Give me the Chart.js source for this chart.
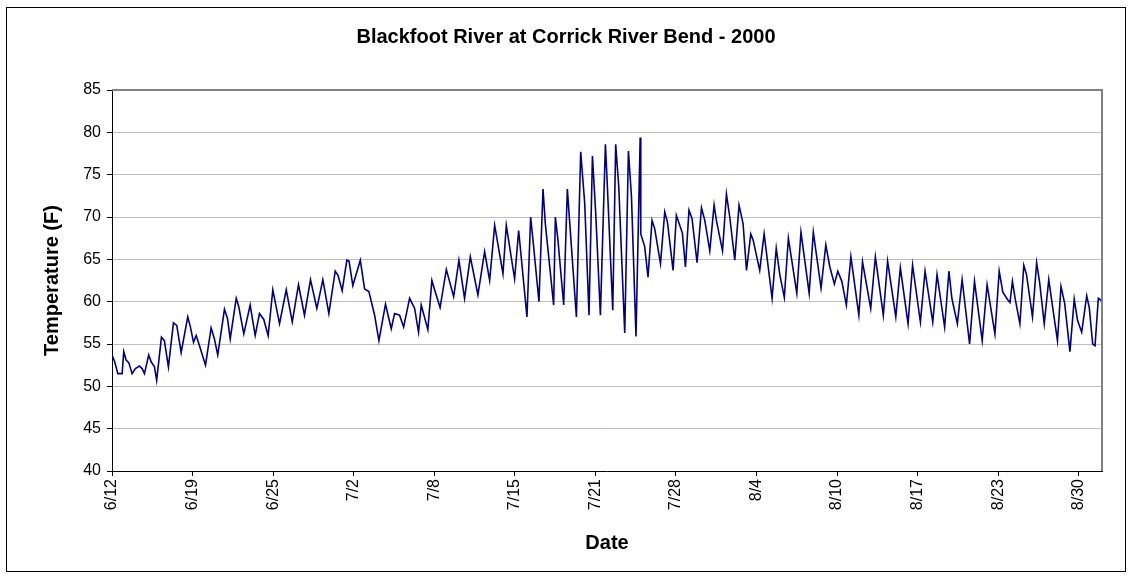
<!DOCTYPE html>
<html>
<head>
<meta charset="utf-8">
<script src="https://cdn.jsdelivr.net/npm/chart.js@4.4.0/dist/chart.umd.min.js"></script>
<style>
  body { margin: 0; background: #fff; }
  canvas { display: block; }
</style>
</head>
<body>
<canvas id="tempChart" width="1132" height="577"></canvas>
<script>
// tick labels along the date axis (evenly spaced in the original chart)
const tickLabels = ['6/12', '6/19', '6/25', '7/2', '7/8', '7/15', '7/21',
                    '7/28', '8/4', '8/10', '8/17', '8/23', '8/30'];
const daysPerTick = 79 / 12;

// daily highs / lows, days after 6/12
const dayOffsets = [
    0, 0.20, 0.48, 0.83, 0.96, 1.15, 1.37, 1.64, 1.91, 2.24,
    2.46, 2.65, 3.00, 3.20, 3.47, 3.65, 4.04, 4.28, 4.61, 5.02,
    5.29, 5.65, 6.19, 6.41, 6.66, 6.88, 7.15, 7.64, 8.10, 8.37,
    8.64, 9.19, 9.44, 9.66, 10.15, 10.36, 10.77, 11.29, 11.70, 12.05,
    12.40, 12.76, 13.14, 13.69, 14.24, 14.73, 15.24, 15.73, 16.22, 16.74,
    17.23, 17.72, 18.24, 18.47, 18.81, 19.19, 19.37, 19.68, 20.29, 20.64,
    20.99, 21.46, 21.81, 22.35, 22.82, 23.09, 23.50, 23.83, 24.32, 24.73,
    25.05, 25.27, 25.81, 26.14, 26.36, 26.81, 27.32, 27.92, 28.35, 28.81,
    29.28, 29.90, 30.45, 30.86, 31.27, 31.95, 32.22, 32.90, 33.23, 33.91,
    34.21, 34.40, 34.89, 35.22, 35.41, 36.09, 36.23, 36.44, 36.91, 37.21,
    37.40, 37.95, 38.30, 38.63, 38.98, 39.26, 39.53, 39.91, 40.32, 40.45,
    40.92, 41.16, 41.41, 41.90, 42.20, 42.45, 42.82, 43.16, 43.21, 43.53,
    43.80, 44.13, 44.35, 44.82, 45.17, 45.39, 45.85, 46.12, 46.61, 46.86,
    47.15, 47.40, 47.81, 48.17, 48.44, 48.85, 49.20, 49.39, 49.89, 50.21,
    50.48, 50.89, 51.24, 51.57, 51.85, 52.20, 52.39, 52.93, 53.29, 53.94,
    54.28, 54.57, 54.94, 55.27, 55.96, 56.30, 56.97, 57.31, 57.94, 58.33,
    58.66, 59.03, 59.31, 59.64, 60.01, 60.38, 61.03, 61.33, 62.00, 62.38,
    63.03, 63.38, 64.05, 64.42, 65.05, 65.42, 66.06, 66.44, 67.07, 67.42,
    68.04, 68.39, 68.63, 69.08, 69.47, 70.08, 70.48, 71.11, 71.51, 72.15,
    72.50, 72.80, 73.21, 73.38, 73.58, 73.81, 74.19, 74.51, 74.73, 75.22,
    75.56, 75.81, 76.18, 76.55, 76.85, 77.26, 77.55, 77.85, 78.28, 78.63,
    78.90, 79.24, 79.65, 79.86, 80.14, 80.33, 80.60, 80.87, 80.95
];

const tempF = [
    53.7, 53.0, 51.5, 51.5, 54.1, 53.1, 52.8, 51.5, 52.1, 52.4,
    52.1, 51.5, 53.7, 52.9, 52.3, 50.7, 55.8, 55.4, 52.3, 57.5,
    57.2, 54.0, 58.2, 57.0, 55.2, 56.0, 54.8, 52.5, 56.9, 55.6,
    53.7, 59.1, 58.0, 55.6, 60.4, 59.4, 56.2, 59.6, 56.0, 58.6,
    57.9, 56.0, 61.4, 57.4, 61.4, 57.6, 62.0, 58.4, 62.6, 59.2,
    62.6, 58.6, 63.6, 63.1, 61.3, 64.9, 64.8, 61.9, 64.9, 61.5,
    61.2, 58.4, 55.4, 59.7, 56.8, 58.6, 58.4, 57.0, 60.4, 59.2,
    56.4, 59.6, 56.7, 62.5, 61.4, 59.3, 63.8, 60.6, 64.9, 60.4,
    65.3, 60.8, 65.9, 62.5, 69.0, 63.3, 69.0, 62.7, 68.4, 58.2,
    70.0, 67.3, 60.0, 73.3, 69.2, 59.6, 70.0, 67.3, 59.6, 73.3,
    69.4, 58.2, 77.7, 71.6, 58.4, 77.2, 70.4, 58.4, 78.6, 74.6,
    59.0, 78.6, 73.6, 56.3, 77.8, 72.4, 55.9, 79.4, 68.0, 66.5,
    62.9, 69.6, 68.6, 64.5, 70.6, 69.4, 63.7, 70.2, 68.1, 64.1,
    70.8, 69.8, 64.6, 71.1, 69.6, 66.0, 71.4, 69.6, 66.0, 72.7,
    70.0, 64.9, 71.4, 69.2, 63.7, 68.0, 67.3, 63.7, 68.0, 60.4,
    66.3, 63.2, 60.5, 67.5, 61.0, 68.2, 61.0, 68.2, 61.6, 66.7,
    64.1, 62.1, 63.6, 62.4, 59.6, 65.3, 58.4, 64.7, 59.2, 65.3,
    58.4, 64.8, 58.2, 64.0, 57.4, 64.3, 57.6, 63.6, 57.6, 63.2,
    57.0, 63.6, 60.4, 57.4, 62.6, 55.0, 62.4, 55.4, 62.0, 56.2,
    63.6, 61.1, 60.2, 59.9, 62.4, 60.3, 57.4, 64.3, 63.2, 58.2,
    64.6, 62.2, 57.4, 62.6, 59.5, 55.4, 61.8, 59.8, 54.1, 60.3,
    57.8, 56.4, 60.7, 59.3, 55.0, 54.8, 60.4, 60.1, 58.6
];

const chartFrame = {
    id: 'chartFrame',
    beforeDraw(chart) {
        const ctx = chart.ctx;
        ctx.save();
        ctx.fillStyle = '#ffffff';
        ctx.fillRect(0, 0, chart.width, chart.height);
        ctx.strokeStyle = '#000000';
        ctx.lineWidth = 1;
        ctx.strokeRect(6.5, 7.5, 1119, 564);
        ctx.restore();
    },
    afterDraw(chart) {
        const a = chart.chartArea;
        const ctx = chart.ctx;
        ctx.save();
        ctx.strokeStyle = '#808080';
        ctx.lineWidth = 2;
        ctx.beginPath();
        ctx.moveTo(a.left, a.top);
        ctx.lineTo(a.right, a.top);
        ctx.lineTo(a.right, a.bottom);
        ctx.stroke();
        ctx.restore();
    }
};

const ctx = document.getElementById('tempChart').getContext('2d');
new Chart(ctx, {
    type: 'line',
    data: {
        datasets: [{
            data: dayOffsets.map((d, i) => ({ x: d, y: tempF[i] })),
            borderColor: '#000080',
            borderWidth: 1.6,
            pointRadius: 0,
            tension: 0,
            fill: false
        }]
    },
    options: {
        responsive: false,
        animation: false,
        devicePixelRatio: 1,
        layout: { padding: { left: 30, right: 30, top: 10, bottom: 10 } },
        plugins: {
            legend: { display: false },
            tooltip: { enabled: false },
            title: {
                display: true,
                text: 'Blackfoot River at Corrick River Bend - 2000',
                color: '#000',
                font: { family: 'Liberation Sans, Arial, sans-serif', size: 20, weight: 'bold' },
                padding: { top: 15, bottom: 41 }
            }
        },
        scales: {
            x: {
                type: 'linear',
                min: 0,
                max: 80.9,
                afterBuildTicks: scale => {
                    scale.ticks = tickLabels.map((_, k) => ({ value: k * daysPerTick }));
                },
                afterFit: scale => { scale.height = 96; },
                ticks: {
                    autoSkip: false,
                    minRotation: 90,
                    maxRotation: 90,
                    padding: 3,
                    color: '#000',
                    font: { family: 'Liberation Sans, Arial, sans-serif', size: 16 },
                    callback: (value, index) => tickLabels[index]
                },
                grid: { drawOnChartArea: false, drawTicks: true, tickLength: 5, tickColor: '#000' },
                border: { color: '#000', width: 1 },
                title: {
                    display: true,
                    text: 'Date',
                    color: '#000',
                    font: { family: 'Liberation Sans, Arial, sans-serif', size: 20, weight: 'bold' },
                    padding: { top: 0, bottom: 12 }
                }
            },
            y: {
                min: 40,
                max: 85,
                afterFit: scale => { scale.width = 82; },
                ticks: {
                    stepSize: 5,
                    padding: 6,
                    color: '#000',
                    font: { family: 'Liberation Sans, Arial, sans-serif', size: 16 }
                },
                grid: { color: '#c0c0c0', lineWidth: 1, tickLength: 5, tickColor: '#000' },
                border: { color: '#000', width: 1 },
                title: {
                    display: true,
                    text: 'Temperature (F)',
                    color: '#000',
                    font: { family: 'Liberation Sans, Arial, sans-serif', size: 20, weight: 'bold' },
                    padding: { top: 10, bottom: 0 }
                }
            }
        }
    },
    plugins: [chartFrame]
});
</script>
</body>
</html>
